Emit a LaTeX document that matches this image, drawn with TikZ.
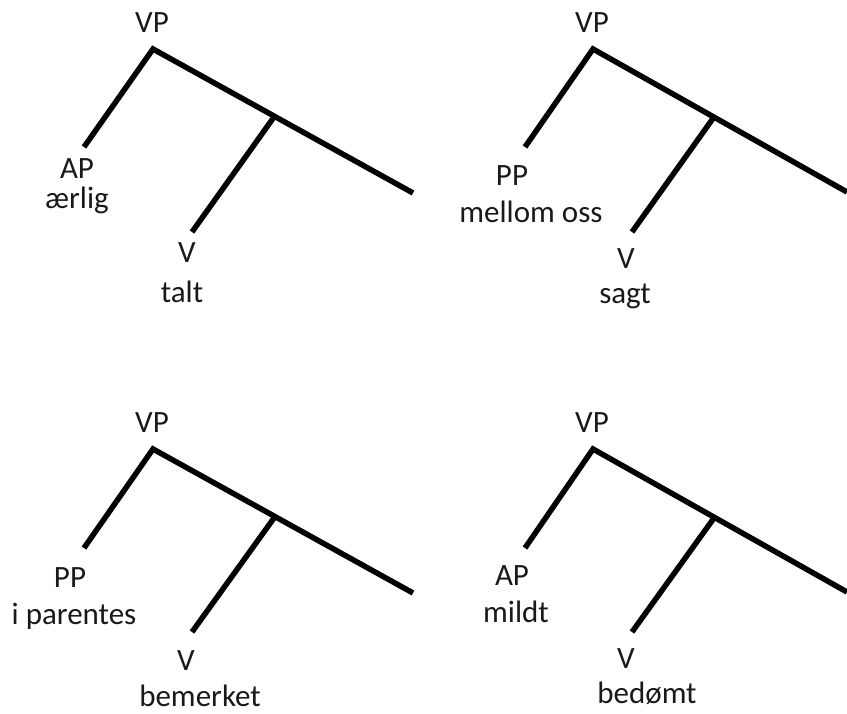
\documentclass[tikz,border=0pt]{standalone}
\usepackage{fontspec}
\setmainfont{Carlito}
\begin{document}
\begin{tikzpicture}[x=1pt,y=-1pt,
  lbl/.style={anchor=base,inner sep=0pt,text=black!90,font=\fontsize{31}{37}\selectfont},
  branch/.style={line width=5.5pt,line join=miter,line cap=butt}]
\useasboundingbox (0,0) rectangle (847,713);
% ---------- tree 1 ----------
\node[lbl] (t1vp) at (152,32) {VP};
\node[lbl] (t1ap) at (77,178) {AP};
\node[lbl] (t1w1) at (77,208) {ærlig};
\node[lbl] (t1v) at (187,262) {V};
\node[lbl] (t1w2) at (182,302) {talt};
\coordinate (t1a) at (153,49);
\coordinate (t1l) at (84,147);
\coordinate (t1b) at (274,117);
\coordinate (t1r) at (413,193);
\coordinate (t1d) at (192,232);
\draw[branch] (t1l) -- (t1a) -- (t1r);
\draw[branch] (t1b) -- (t1d);
% ---------- tree 2 ----------
\node[lbl] (t2vp) at (592,32) {VP};
\node[lbl] (t2pp) at (512,185) {PP};
\node[lbl] (t2w1) at (531,222) {mellom oss};
\node[lbl] (t2v) at (626,268) {V};
\node[lbl] (t2w2) at (625,303) {sagt};
\coordinate (t2a) at (593,49);
\coordinate (t2l) at (525,147);
\coordinate (t2b) at (714,117);
\coordinate (t2r) at (847,192);
\coordinate (t2d) at (632,232);
\draw[branch] (t2l) -- (t2a) -- (t2r);
\draw[branch] (t2b) -- (t2d);
% ---------- tree 3 ----------
\node[lbl] (t3vp) at (152,432) {VP};
\node[lbl] (t3pp) at (70,587) {PP};
\node[lbl] (t3w1) at (74,624) {i parentes};
\node[lbl] (t3v) at (186,670) {V};
\node[lbl] (t3w2) at (200,706) {bemerket};
\coordinate (t3a) at (153,449);
\coordinate (t3l) at (84,548);
\coordinate (t3b) at (274,518);
\coordinate (t3r) at (413,593);
\coordinate (t3d) at (192,632);
\draw[branch] (t3l) -- (t3a) -- (t3r);
\draw[branch] (t3b) -- (t3d);
% ---------- tree 4 ----------
\node[lbl] (t4vp) at (592,432) {VP};
\node[lbl] (t4ap) at (512,585) {AP};
\node[lbl] (t4w1) at (516,622) {mildt};
\node[lbl] (t4v) at (626,668) {V};
\node[lbl] (t4w2) at (647,703) {bedømt};
\coordinate (t4a) at (593,449);
\coordinate (t4l) at (525,548);
\coordinate (t4b) at (714,518);
\coordinate (t4r) at (847,592);
\coordinate (t4d) at (632,632);
\draw[branch] (t4l) -- (t4a) -- (t4r);
\draw[branch] (t4b) -- (t4d);
\end{tikzpicture}
\end{document}
